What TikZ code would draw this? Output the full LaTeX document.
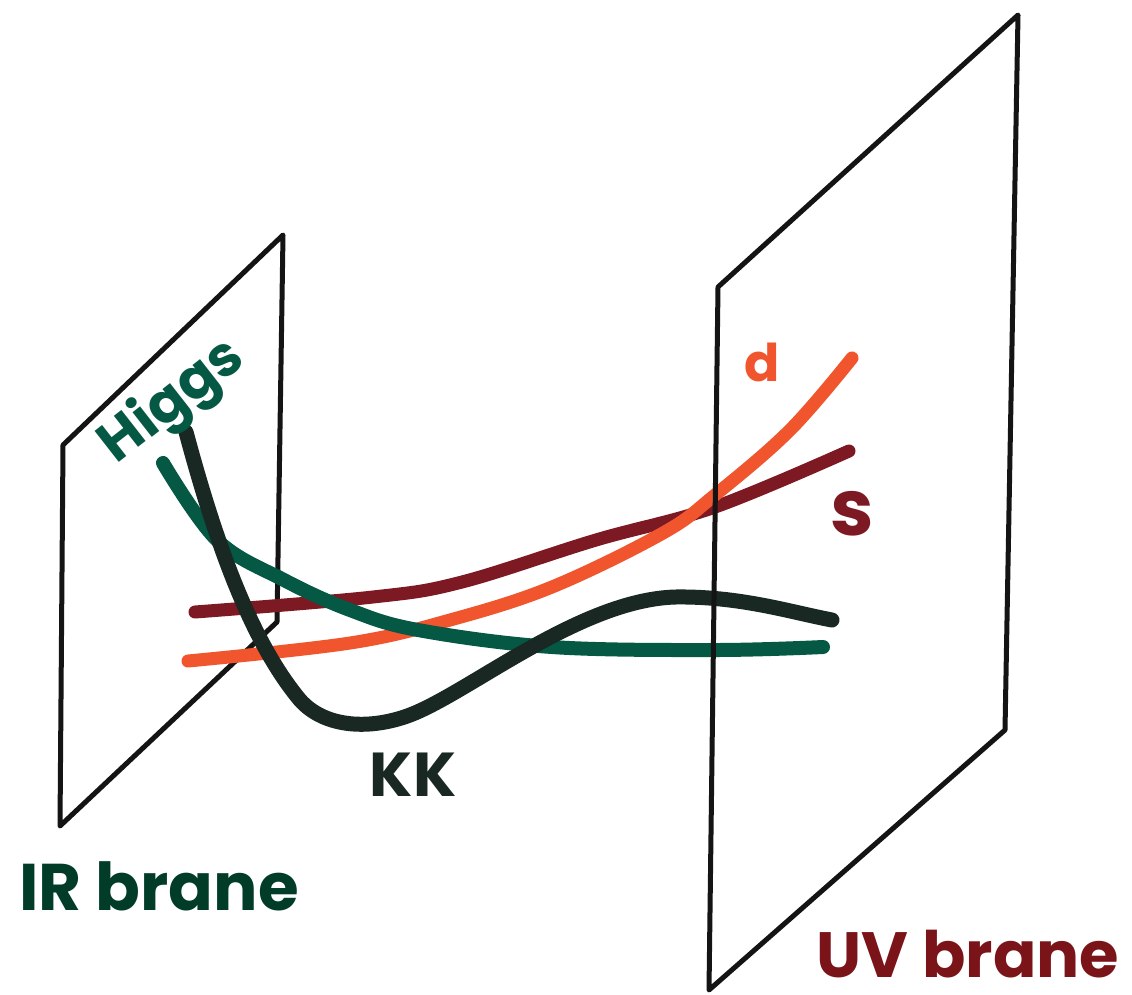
\documentclass[tikz,border=0pt]{standalone}
\usepackage{fontspec}
\newfontfamily\hand{Poppins}
\definecolor{sred}{RGB}{125,25,35}
\definecolor{dorange}{RGB}{240,85,45}
\definecolor{hgreen}{RGB}{5,88,68}
\definecolor{kkdark}{RGB}{25,40,35}
\definecolor{irgreen}{RGB}{0,60,40}
\definecolor{uvred}{RGB}{122,20,25}
\begin{document}
\begin{tikzpicture}[x=1pt,y=-1pt,
  brane/.style={line width=5pt, line join=round, line cap=round, draw=black!92},
  field/.style={line width=13pt, line cap=round, line join=round},
  lbl/.style={inner sep=0pt, text depth=0pt}]
\useasboundingbox (0,0) rectangle (1132,994);
\fill[white] (0,0) rectangle (1132,994);
% IR brane
\draw[brane] (63,445) -- (283,235) -- (277,622) -- (60,826) -- cycle;
% fields
\draw[field, draw=sred] plot[smooth, tension=0.6] coordinates {(195,612) (373,597) (462,582) (596,540) (715,507) (849,451)};
\draw[field, draw=dorange] plot[smooth, tension=0.6] coordinates {(188,661) (350,643) (450,620) (552,587) (663,533) (715,495) (790,430) (852,358)};
\draw[field, line width=14pt, draw=hgreen] plot[smooth, tension=0.6] coordinates {(163,463) (217,540) (284,580) (350,610) (418,630) (552,647) (715,650) (823,647)};
\draw[field, line width=15pt, draw=kkdark] (186,432) .. controls (215,540) and (250,640) .. (300,700)
  .. controls (325,728) and (370,730) .. (410,715)
  .. controls (470,692) and (580,600) .. (675,597)
  .. controls (740,596) and (790,612) .. (832,620);
% UV brane
\draw[brane] (718,287) -- (1018,15) -- (1005,730) -- (709,990) -- cycle;
% labels
\node[lbl, text=hgreen, rotate=38, font=\hand\bfseries\fontsize{56}{60}\selectfont] (higgs) at (168,396) {Higgs};
\node[lbl, text=kkdark, font=\hand\bfseries\fontsize{62}{66}\selectfont] (kk) at (413,775) {KK};
\node[lbl, text=dorange, font=\hand\bfseries\fontsize{52}{56}\selectfont] (d) at (762,362) {d};
\node[lbl, text=sred, font=\hand\bfseries\fontsize{78}{80}\selectfont] (s) at (852,513) {s};
\node[lbl, text=irgreen, font=\hand\bfseries\fontsize{66}{70}\selectfont] (ir) at (159,886) {IR brane};
\node[lbl, text=uvred, font=\hand\bfseries\fontsize{64}{68}\selectfont] (uv) at (968,954) {UV brane};
\end{tikzpicture}
\end{document}
